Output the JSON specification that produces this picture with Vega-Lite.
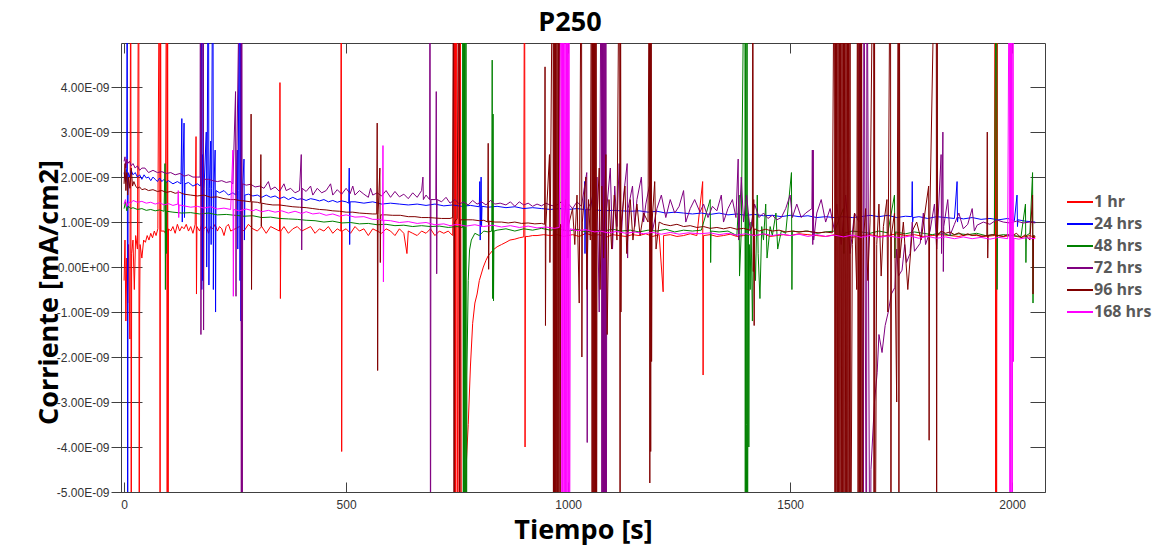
{
"$schema":"https://vega.github.io/schema/vega-lite/v6.json",
"width":924,"height":449,
"autosize":"none",
"padding":{"left":121,"top":43,"right":109,"bottom":55},
"background":"white",
"title":{"text":"P250","font":"Open Sans","fontSize":27,"fontWeight":"bold","color":"#000000","anchor":"middle","offset":6,"dx":-13,"frame":"group"},
"config":{"view":{"stroke":"#404040","strokeWidth":1},"axis":{"grid":false}},
"data":{"values":[
{"s":"1 hr","t":0,"i":-0.3e-9},{"s":"1 hr","t":2,"i":0.6e-9},{"s":"1 hr","t":4,"i":-1.2e-9},{"s":"1 hr","t":6,"i":0.2e-9},{"s":"1 hr","t":8,"i":-0.8e-9},{"s":"1 hr","t":10,"i":0.5e-9},{"s":"1 hr","t":13,"i":-1.6e-9},{"s":"1 hr","t":15,"i":9e-9},{"s":"1 hr","t":16,"i":-9e-9},{"s":"1 hr","t":17,"i":0.3e-9},{"s":"1 hr","t":20,"i":0.6e-9},{"s":"1 hr","t":23,"i":-0.5e-9},{"s":"1 hr","t":26,"i":0.7e-9},{"s":"1 hr","t":30,"i":0.4e-9},{"s":"1 hr","t":33,"i":9e-9},{"s":"1 hr","t":34,"i":-9e-9},{"s":"1 hr","t":35,"i":-1.0e-9},{"s":"1 hr","t":36,"i":0.5e-9},{"s":"1 hr","t":40,"i":0.2e-9},{"s":"1 hr","t":44,"i":0.6e-9},{"s":"1 hr","t":48,"i":0.55e-9},{"s":"1 hr","t":52,"i":0.7e-9},{"s":"1 hr","t":56,"i":0.6e-9},{"s":"1 hr","t":60,"i":0.75e-9},{"s":"1 hr","t":64,"i":0.65e-9},{"s":"1 hr","t":68,"i":0.8e-9},{"s":"1 hr","t":72,"i":0.7e-9},{"s":"1 hr","t":76,"i":0.85e-9},{"s":"1 hr","t":80,"i":9e-9},{"s":"1 hr","t":81,"i":-9e-9},{"s":"1 hr","t":82,"i":9e-9},{"s":"1 hr","t":83,"i":0.8e-9},{"s":"1 hr","t":90,"i":0.8e-9},{"s":"1 hr","t":93,"i":0.75e-9},{"s":"1 hr","t":96,"i":9e-9},{"s":"1 hr","t":97,"i":-9e-9},{"s":"1 hr","t":98,"i":9e-9},{"s":"1 hr","t":99,"i":-9e-9},{"s":"1 hr","t":100,"i":0.85e-9},{"s":"1 hr","t":105,"i":0.8e-9},{"s":"1 hr","t":110,"i":0.9e-9},{"s":"1 hr","t":115,"i":0.75e-9},{"s":"1 hr","t":120,"i":0.95e-9},{"s":"1 hr","t":125,"i":0.8e-9},{"s":"1 hr","t":130,"i":0.9e-9},{"s":"1 hr","t":135,"i":0.85e-9},{"s":"1 hr","t":140,"i":0.95e-9},{"s":"1 hr","t":145,"i":0.8e-9},{"s":"1 hr","t":150,"i":0.9e-9},{"s":"1 hr","t":155,"i":0.75e-9},{"s":"1 hr","t":160,"i":0.95e-9},{"s":"1 hr","t":162,"i":2.9e-9},{"s":"1 hr","t":163,"i":-0.6e-9},{"s":"1 hr","t":164,"i":0.9e-9},{"s":"1 hr","t":170,"i":0.8e-9},{"s":"1 hr","t":175,"i":0.95e-9},{"s":"1 hr","t":180,"i":0.85e-9},{"s":"1 hr","t":185,"i":0.9e-9},{"s":"1 hr","t":190,"i":0.75e-9},{"s":"1 hr","t":195,"i":0.9e-9},{"s":"1 hr","t":200,"i":0.85e-9},{"s":"1 hr","t":205,"i":0.95e-9},{"s":"1 hr","t":210,"i":0.8e-9},{"s":"1 hr","t":215,"i":0.9e-9},{"s":"1 hr","t":220,"i":0.85e-9},{"s":"1 hr","t":225,"i":0.7e-9},{"s":"1 hr","t":230,"i":0.9e-9},{"s":"1 hr","t":235,"i":0.95e-9},{"s":"1 hr","t":240,"i":0.8e-9},{"s":"1 hr","t":250,"i":0.85e-9},{"s":"1 hr","t":260,"i":0.9e-9},{"s":"1 hr","t":270,"i":0.8e-9},{"s":"1 hr","t":280,"i":0.95e-9},{"s":"1 hr","t":290,"i":0.85e-9},{"s":"1 hr","t":300,"i":0.8e-9},{"s":"1 hr","t":310,"i":0.9e-9},{"s":"1 hr","t":320,"i":0.75e-9},{"s":"1 hr","t":330,"i":0.9e-9},{"s":"1 hr","t":340,"i":0.85e-9},{"s":"1 hr","t":350,"i":0.8e-9},{"s":"1 hr","t":351,"i":4.1e-9},{"s":"1 hr","t":352,"i":-0.7e-9},{"s":"1 hr","t":353,"i":0.8e-9},{"s":"1 hr","t":360,"i":0.9e-9},{"s":"1 hr","t":370,"i":0.75e-9},{"s":"1 hr","t":380,"i":0.85e-9},{"s":"1 hr","t":390,"i":0.9e-9},{"s":"1 hr","t":400,"i":0.8e-9},{"s":"1 hr","t":410,"i":0.85e-9},{"s":"1 hr","t":420,"i":0.9e-9},{"s":"1 hr","t":430,"i":0.75e-9},{"s":"1 hr","t":440,"i":0.85e-9},{"s":"1 hr","t":450,"i":0.8e-9},{"s":"1 hr","t":460,"i":0.9e-9},{"s":"1 hr","t":470,"i":0.75e-9},{"s":"1 hr","t":480,"i":0.85e-9},{"s":"1 hr","t":488,"i":0.8e-9},{"s":"1 hr","t":489,"i":9e-9},{"s":"1 hr","t":490,"i":-4.1e-9},{"s":"1 hr","t":491,"i":0.8e-9},{"s":"1 hr","t":500,"i":0.85e-9},{"s":"1 hr","t":510,"i":0.75e-9},{"s":"1 hr","t":520,"i":0.9e-9},{"s":"1 hr","t":530,"i":0.8e-9},{"s":"1 hr","t":540,"i":0.85e-9},{"s":"1 hr","t":550,"i":0.7e-9},{"s":"1 hr","t":560,"i":0.85e-9},{"s":"1 hr","t":570,"i":0.8e-9},{"s":"1 hr","t":580,"i":0.75e-9},{"s":"1 hr","t":590,"i":0.85e-9},{"s":"1 hr","t":600,"i":0.8e-9},{"s":"1 hr","t":610,"i":0.7e-9},{"s":"1 hr","t":620,"i":0.85e-9},{"s":"1 hr","t":630,"i":0.75e-9},{"s":"1 hr","t":637,"i":0.3e-9},{"s":"1 hr","t":640,"i":0.8e-9},{"s":"1 hr","t":650,"i":0.75e-9},{"s":"1 hr","t":660,"i":0.7e-9},{"s":"1 hr","t":670,"i":0.8e-9},{"s":"1 hr","t":680,"i":0.75e-9},{"s":"1 hr","t":690,"i":0.85e-9},{"s":"1 hr","t":700,"i":0.7e-9},{"s":"1 hr","t":710,"i":0.8e-9},{"s":"1 hr","t":720,"i":0.75e-9},{"s":"1 hr","t":730,"i":0.8e-9},{"s":"1 hr","t":740,"i":0.7e-9},{"s":"1 hr","t":744,"i":9e-9},{"s":"1 hr","t":745,"i":-9e-9},{"s":"1 hr","t":746,"i":9e-9},{"s":"1 hr","t":747,"i":-9e-9},{"s":"1 hr","t":748,"i":9e-9},{"s":"1 hr","t":752,"i":-9e-9},{"s":"1 hr","t":753,"i":9e-9},{"s":"1 hr","t":756,"i":-9e-9},{"s":"1 hr","t":757,"i":9e-9},{"s":"1 hr","t":760,"i":-9e-9},{"s":"1 hr","t":765,"i":-6e-9},{"s":"1 hr","t":770,"i":-4.5e-9},{"s":"1 hr","t":775,"i":-3.5e-9},{"s":"1 hr","t":780,"i":-2.2e-9},{"s":"1 hr","t":785,"i":-1.25e-9},{"s":"1 hr","t":790,"i":-0.8e-9},{"s":"1 hr","t":795,"i":-0.6e-9},{"s":"1 hr","t":800,"i":-0.3e-9},{"s":"1 hr","t":809,"i":0.0},{"s":"1 hr","t":815,"i":0.15e-9},{"s":"1 hr","t":820,"i":0.25e-9},{"s":"1 hr","t":831,"i":0.38e-9},{"s":"1 hr","t":840,"i":0.45e-9},{"s":"1 hr","t":850,"i":0.5e-9},{"s":"1 hr","t":860,"i":0.55e-9},{"s":"1 hr","t":869,"i":0.6e-9},{"s":"1 hr","t":880,"i":0.62e-9},{"s":"1 hr","t":890,"i":0.65e-9},{"s":"1 hr","t":900,"i":0.67e-9},{"s":"1 hr","t":902,"i":9e-9},{"s":"1 hr","t":903,"i":-4.0e-9},{"s":"1 hr","t":904,"i":0.68e-9},{"s":"1 hr","t":910,"i":0.68e-9},{"s":"1 hr","t":920,"i":0.7e-9},{"s":"1 hr","t":930,"i":0.7e-9},{"s":"1 hr","t":945,"i":0.72e-9},{"s":"1 hr","t":960,"i":0.7e-9},{"s":"1 hr","t":975,"i":0.72e-9},{"s":"1 hr","t":990,"i":0.68e-9},{"s":"1 hr","t":1000,"i":0.7e-9},{"s":"1 hr","t":1010,"i":0.72e-9},{"s":"1 hr","t":1025,"i":0.68e-9},{"s":"1 hr","t":1040,"i":0.75e-9},{"s":"1 hr","t":1055,"i":0.7e-9},{"s":"1 hr","t":1070,"i":0.72e-9},{"s":"1 hr","t":1085,"i":0.66e-9},{"s":"1 hr","t":1100,"i":0.72e-9},{"s":"1 hr","t":1115,"i":0.7e-9},{"s":"1 hr","t":1130,"i":0.68e-9},{"s":"1 hr","t":1145,"i":0.72e-9},{"s":"1 hr","t":1160,"i":0.7e-9},{"s":"1 hr","t":1175,"i":0.74e-9},{"s":"1 hr","t":1190,"i":0.68e-9},{"s":"1 hr","t":1205,"i":0.72e-9},{"s":"1 hr","t":1214,"i":-0.55e-9},{"s":"1 hr","t":1215,"i":0.7e-9},{"s":"1 hr","t":1230,"i":0.72e-9},{"s":"1 hr","t":1245,"i":0.68e-9},{"s":"1 hr","t":1260,"i":0.7e-9},{"s":"1 hr","t":1275,"i":0.74e-9},{"s":"1 hr","t":1290,"i":0.7e-9},{"s":"1 hr","t":1303,"i":1.9e-9},{"s":"1 hr","t":1304,"i":-2.4e-9},{"s":"1 hr","t":1305,"i":0.7e-9},{"s":"1 hr","t":1320,"i":0.72e-9},{"s":"1 hr","t":1335,"i":0.68e-9},{"s":"1 hr","t":1350,"i":0.7e-9},{"s":"1 hr","t":1365,"i":0.73e-9},{"s":"1 hr","t":1380,"i":0.68e-9},{"s":"1 hr","t":1395,"i":0.7e-9},{"s":"1 hr","t":1410,"i":0.72e-9},{"s":"1 hr","t":1425,"i":0.7e-9},{"s":"1 hr","t":1440,"i":0.74e-9},{"s":"1 hr","t":1455,"i":0.68e-9},{"s":"1 hr","t":1470,"i":0.7e-9},{"s":"1 hr","t":1485,"i":0.72e-9},{"s":"1 hr","t":1500,"i":0.7e-9},{"s":"1 hr","t":1520,"i":0.74e-9},{"s":"1 hr","t":1540,"i":0.72e-9},{"s":"1 hr","t":1560,"i":0.7e-9},{"s":"1 hr","t":1580,"i":0.68e-9},{"s":"1 hr","t":1600,"i":0.72e-9},{"s":"1 hr","t":1620,"i":0.7e-9},{"s":"1 hr","t":1640,"i":0.66e-9},{"s":"1 hr","t":1660,"i":0.7e-9},{"s":"1 hr","t":1680,"i":0.72e-9},{"s":"1 hr","t":1700,"i":0.68e-9},{"s":"1 hr","t":1720,"i":0.7e-9},{"s":"1 hr","t":1740,"i":0.74e-9},{"s":"1 hr","t":1760,"i":0.7e-9},{"s":"1 hr","t":1780,"i":0.72e-9},{"s":"1 hr","t":1800,"i":0.68e-9},{"s":"1 hr","t":1820,"i":0.7e-9},{"s":"1 hr","t":1840,"i":0.72e-9},{"s":"1 hr","t":1860,"i":0.7e-9},{"s":"1 hr","t":1880,"i":0.68e-9},{"s":"1 hr","t":1900,"i":0.72e-9},{"s":"1 hr","t":1920,"i":0.7e-9},{"s":"1 hr","t":1940,"i":0.68e-9},{"s":"1 hr","t":1960,"i":0.7e-9},{"s":"1 hr","t":1962,"i":9e-9},{"s":"1 hr","t":1963,"i":-9e-9},{"s":"1 hr","t":1964,"i":9e-9},{"s":"1 hr","t":1965,"i":-9e-9},{"s":"1 hr","t":1966,"i":9e-9},{"s":"1 hr","t":1967,"i":0.7e-9},{"s":"1 hr","t":1980,"i":0.68e-9},{"s":"1 hr","t":2000,"i":0.7e-9},{"s":"1 hr","t":2020,"i":0.66e-9},{"s":"1 hr","t":2040,"i":0.7e-9},{"s":"1 hr","t":2052,"i":0.65e-9},
{"s":"24 hrs","t":0,"i":2.1e-9},{"s":"24 hrs","t":3,"i":1.9e-9},{"s":"24 hrs","t":6,"i":2.2e-9},{"s":"24 hrs","t":7,"i":9e-9},{"s":"24 hrs","t":8,"i":-9e-9},{"s":"24 hrs","t":9,"i":2.1e-9},{"s":"24 hrs","t":12,"i":2.0e-9},{"s":"24 hrs","t":16,"i":2.15e-9},{"s":"24 hrs","t":20,"i":2.05e-9},{"s":"24 hrs","t":25,"i":2.1e-9},{"s":"24 hrs","t":30,"i":2.0e-9},{"s":"24 hrs","t":35,"i":2.05e-9},{"s":"24 hrs","t":40,"i":1.95e-9},{"s":"24 hrs","t":45,"i":2.05e-9},{"s":"24 hrs","t":50,"i":1.98e-9},{"s":"24 hrs","t":55,"i":2.0e-9},{"s":"24 hrs","t":60,"i":1.92e-9},{"s":"24 hrs","t":65,"i":2.0e-9},{"s":"24 hrs","t":70,"i":1.95e-9},{"s":"24 hrs","t":75,"i":1.9e-9},{"s":"24 hrs","t":80,"i":1.98e-9},{"s":"24 hrs","t":85,"i":1.9e-9},{"s":"24 hrs","t":90,"i":1.95e-9},{"s":"24 hrs","t":95,"i":1.88e-9},{"s":"24 hrs","t":100,"i":1.92e-9},{"s":"24 hrs","t":110,"i":1.85e-9},{"s":"24 hrs","t":120,"i":1.9e-9},{"s":"24 hrs","t":128,"i":1.85e-9},{"s":"24 hrs","t":130,"i":3.3e-9},{"s":"24 hrs","t":131,"i":1.0e-9},{"s":"24 hrs","t":132,"i":1.9e-9},{"s":"24 hrs","t":135,"i":3.2e-9},{"s":"24 hrs","t":136,"i":1.1e-9},{"s":"24 hrs","t":137,"i":1.85e-9},{"s":"24 hrs","t":145,"i":1.88e-9},{"s":"24 hrs","t":155,"i":1.8e-9},{"s":"24 hrs","t":165,"i":1.85e-9},{"s":"24 hrs","t":172,"i":1.8e-9},{"s":"24 hrs","t":174,"i":9e-9},{"s":"24 hrs","t":175,"i":-0.5e-9},{"s":"24 hrs","t":176,"i":2.5e-9},{"s":"24 hrs","t":177,"i":-0.3e-9},{"s":"24 hrs","t":178,"i":9e-9},{"s":"24 hrs","t":179,"i":0.8e-9},{"s":"24 hrs","t":180,"i":1.75e-9},{"s":"24 hrs","t":185,"i":3.0e-9},{"s":"24 hrs","t":186,"i":0.0},{"s":"24 hrs","t":187,"i":1.8e-9},{"s":"24 hrs","t":190,"i":9e-9},{"s":"24 hrs","t":191,"i":-0.4e-9},{"s":"24 hrs","t":192,"i":1.75e-9},{"s":"24 hrs","t":195,"i":2.8e-9},{"s":"24 hrs","t":196,"i":0.5e-9},{"s":"24 hrs","t":197,"i":1.75e-9},{"s":"24 hrs","t":200,"i":9e-9},{"s":"24 hrs","t":201,"i":-0.5e-9},{"s":"24 hrs","t":202,"i":1.7e-9},{"s":"24 hrs","t":205,"i":2.6e-9},{"s":"24 hrs","t":206,"i":-1.0e-9},{"s":"24 hrs","t":207,"i":1.7e-9},{"s":"24 hrs","t":215,"i":1.65e-9},{"s":"24 hrs","t":225,"i":1.7e-9},{"s":"24 hrs","t":235,"i":1.6e-9},{"s":"24 hrs","t":245,"i":1.65e-9},{"s":"24 hrs","t":252,"i":1.6e-9},{"s":"24 hrs","t":255,"i":2.6e-9},{"s":"24 hrs","t":256,"i":0.4e-9},{"s":"24 hrs","t":257,"i":1.7e-9},{"s":"24 hrs","t":260,"i":9e-9},{"s":"24 hrs","t":261,"i":-0.3e-9},{"s":"24 hrs","t":262,"i":9e-9},{"s":"24 hrs","t":263,"i":-1.2e-9},{"s":"24 hrs","t":264,"i":9e-9},{"s":"24 hrs","t":265,"i":-0.3e-9},{"s":"24 hrs","t":266,"i":1.6e-9},{"s":"24 hrs","t":270,"i":2.4e-9},{"s":"24 hrs","t":271,"i":0.6e-9},{"s":"24 hrs","t":272,"i":1.6e-9},{"s":"24 hrs","t":280,"i":1.62e-9},{"s":"24 hrs","t":290,"i":1.58e-9},{"s":"24 hrs","t":300,"i":1.6e-9},{"s":"24 hrs","t":310,"i":1.55e-9},{"s":"24 hrs","t":320,"i":1.6e-9},{"s":"24 hrs","t":330,"i":1.55e-9},{"s":"24 hrs","t":340,"i":1.58e-9},{"s":"24 hrs","t":350,"i":1.52e-9},{"s":"24 hrs","t":360,"i":1.56e-9},{"s":"24 hrs","t":370,"i":1.5e-9},{"s":"24 hrs","t":380,"i":1.55e-9},{"s":"24 hrs","t":390,"i":1.5e-9},{"s":"24 hrs","t":400,"i":1.52e-9},{"s":"24 hrs","t":410,"i":1.48e-9},{"s":"24 hrs","t":420,"i":1.52e-9},{"s":"24 hrs","t":430,"i":1.5e-9},{"s":"24 hrs","t":440,"i":1.47e-9},{"s":"24 hrs","t":450,"i":1.5e-9},{"s":"24 hrs","t":460,"i":1.45e-9},{"s":"24 hrs","t":470,"i":1.48e-9},{"s":"24 hrs","t":480,"i":1.44e-9},{"s":"24 hrs","t":490,"i":1.47e-9},{"s":"24 hrs","t":500,"i":1.45e-9},{"s":"24 hrs","t":506,"i":1.42e-9},{"s":"24 hrs","t":507,"i":2.2e-9},{"s":"24 hrs","t":508,"i":0.5e-9},{"s":"24 hrs","t":509,"i":1.45e-9},{"s":"24 hrs","t":520,"i":1.45e-9},{"s":"24 hrs","t":540,"i":1.42e-9},{"s":"24 hrs","t":560,"i":1.45e-9},{"s":"24 hrs","t":580,"i":1.4e-9},{"s":"24 hrs","t":600,"i":1.42e-9},{"s":"24 hrs","t":620,"i":1.4e-9},{"s":"24 hrs","t":640,"i":1.38e-9},{"s":"24 hrs","t":660,"i":1.4e-9},{"s":"24 hrs","t":680,"i":1.37e-9},{"s":"24 hrs","t":700,"i":1.4e-9},{"s":"24 hrs","t":720,"i":1.36e-9},{"s":"24 hrs","t":740,"i":1.38e-9},{"s":"24 hrs","t":760,"i":1.35e-9},{"s":"24 hrs","t":780,"i":1.37e-9},{"s":"24 hrs","t":800,"i":1.34e-9},{"s":"24 hrs","t":801,"i":1.9e-9},{"s":"24 hrs","t":802,"i":0.6e-9},{"s":"24 hrs","t":803,"i":1.35e-9},{"s":"24 hrs","t":804,"i":2.0e-9},{"s":"24 hrs","t":805,"i":0.9e-9},{"s":"24 hrs","t":806,"i":1.35e-9},{"s":"24 hrs","t":820,"i":1.33e-9},{"s":"24 hrs","t":840,"i":1.35e-9},{"s":"24 hrs","t":860,"i":1.32e-9},{"s":"24 hrs","t":880,"i":1.34e-9},{"s":"24 hrs","t":900,"i":1.3e-9},{"s":"24 hrs","t":920,"i":1.32e-9},{"s":"24 hrs","t":940,"i":1.3e-9},{"s":"24 hrs","t":960,"i":1.28e-9},{"s":"24 hrs","t":980,"i":1.3e-9},{"s":"24 hrs","t":1000,"i":1.28e-9},{"s":"24 hrs","t":1020,"i":1.3e-9},{"s":"24 hrs","t":1036,"i":1.28e-9},{"s":"24 hrs","t":1037,"i":1.9e-9},{"s":"24 hrs","t":1038,"i":0.3e-9},{"s":"24 hrs","t":1039,"i":1.28e-9},{"s":"24 hrs","t":1050,"i":1.27e-9},{"s":"24 hrs","t":1060,"i":1.9e-9},{"s":"24 hrs","t":1061,"i":0.3e-9},{"s":"24 hrs","t":1062,"i":1.27e-9},{"s":"24 hrs","t":1080,"i":1.25e-9},{"s":"24 hrs","t":1100,"i":1.26e-9},{"s":"24 hrs","t":1120,"i":1.25e-9},{"s":"24 hrs","t":1140,"i":1.24e-9},{"s":"24 hrs","t":1160,"i":1.25e-9},{"s":"24 hrs","t":1180,"i":1.22e-9},{"s":"24 hrs","t":1200,"i":1.24e-9},{"s":"24 hrs","t":1220,"i":1.2e-9},{"s":"24 hrs","t":1240,"i":1.22e-9},{"s":"24 hrs","t":1260,"i":1.2e-9},{"s":"24 hrs","t":1280,"i":1.18e-9},{"s":"24 hrs","t":1300,"i":1.2e-9},{"s":"24 hrs","t":1320,"i":1.17e-9},{"s":"24 hrs","t":1340,"i":1.2e-9},{"s":"24 hrs","t":1360,"i":1.16e-9},{"s":"24 hrs","t":1380,"i":1.18e-9},{"s":"24 hrs","t":1400,"i":1.15e-9},{"s":"24 hrs","t":1420,"i":1.17e-9},{"s":"24 hrs","t":1440,"i":1.14e-9},{"s":"24 hrs","t":1460,"i":1.15e-9},{"s":"24 hrs","t":1480,"i":1.12e-9},{"s":"24 hrs","t":1500,"i":1.15e-9},{"s":"24 hrs","t":1520,"i":1.12e-9},{"s":"24 hrs","t":1540,"i":1.14e-9},{"s":"24 hrs","t":1560,"i":1.1e-9},{"s":"24 hrs","t":1580,"i":1.12e-9},{"s":"24 hrs","t":1600,"i":1.1e-9},{"s":"24 hrs","t":1620,"i":1.12e-9},{"s":"24 hrs","t":1640,"i":1.1e-9},{"s":"24 hrs","t":1660,"i":1.12e-9},{"s":"24 hrs","t":1680,"i":1.15e-9},{"s":"24 hrs","t":1700,"i":1.12e-9},{"s":"24 hrs","t":1720,"i":1.15e-9},{"s":"24 hrs","t":1740,"i":1.1e-9},{"s":"24 hrs","t":1760,"i":1.13e-9},{"s":"24 hrs","t":1774,"i":1.12e-9},{"s":"24 hrs","t":1775,"i":1.9e-9},{"s":"24 hrs","t":1776,"i":1.0e-9},{"s":"24 hrs","t":1777,"i":1.1e-9},{"s":"24 hrs","t":1790,"i":1.12e-9},{"s":"24 hrs","t":1810,"i":1.08e-9},{"s":"24 hrs","t":1830,"i":1.12e-9},{"s":"24 hrs","t":1850,"i":1.1e-9},{"s":"24 hrs","t":1870,"i":1.08e-9},{"s":"24 hrs","t":1876,"i":1.9e-9},{"s":"24 hrs","t":1877,"i":1.0e-9},{"s":"24 hrs","t":1878,"i":1.1e-9},{"s":"24 hrs","t":1890,"i":1.07e-9},{"s":"24 hrs","t":1910,"i":1.1e-9},{"s":"24 hrs","t":1930,"i":1.06e-9},{"s":"24 hrs","t":1950,"i":1.08e-9},{"s":"24 hrs","t":1970,"i":1.05e-9},{"s":"24 hrs","t":1990,"i":1.08e-9},{"s":"24 hrs","t":2005,"i":1.03e-9},{"s":"24 hrs","t":2011,"i":1.6e-9},{"s":"24 hrs","t":2012,"i":0.9e-9},{"s":"24 hrs","t":2013,"i":1.05e-9},{"s":"24 hrs","t":2030,"i":1.02e-9},{"s":"24 hrs","t":2052,"i":1.0e-9},
{"s":"48 hrs","t":0,"i":1.3e-9},{"s":"48 hrs","t":3,"i":1.45e-9},{"s":"48 hrs","t":6,"i":1.25e-9},{"s":"48 hrs","t":10,"i":1.35e-9},{"s":"48 hrs","t":15,"i":1.3e-9},{"s":"48 hrs","t":20,"i":1.32e-9},{"s":"48 hrs","t":30,"i":1.28e-9},{"s":"48 hrs","t":40,"i":1.3e-9},{"s":"48 hrs","t":50,"i":1.26e-9},{"s":"48 hrs","t":60,"i":1.28e-9},{"s":"48 hrs","t":70,"i":1.25e-9},{"s":"48 hrs","t":80,"i":1.27e-9},{"s":"48 hrs","t":90,"i":1.24e-9},{"s":"48 hrs","t":92,"i":2.3e-9},{"s":"48 hrs","t":93,"i":-0.5e-9},{"s":"48 hrs","t":94,"i":1.9e-9},{"s":"48 hrs","t":95,"i":0.3e-9},{"s":"48 hrs","t":96,"i":1.24e-9},{"s":"48 hrs","t":110,"i":1.22e-9},{"s":"48 hrs","t":130,"i":1.2e-9},{"s":"48 hrs","t":150,"i":1.21e-9},{"s":"48 hrs","t":170,"i":1.18e-9},{"s":"48 hrs","t":190,"i":1.2e-9},{"s":"48 hrs","t":210,"i":1.16e-9},{"s":"48 hrs","t":230,"i":1.17e-9},{"s":"48 hrs","t":250,"i":1.15e-9},{"s":"48 hrs","t":270,"i":1.13e-9},{"s":"48 hrs","t":290,"i":1.14e-9},{"s":"48 hrs","t":310,"i":1.1e-9},{"s":"48 hrs","t":330,"i":1.11e-9},{"s":"48 hrs","t":350,"i":1.08e-9},{"s":"48 hrs","t":370,"i":1.07e-9},{"s":"48 hrs","t":390,"i":1.06e-9},{"s":"48 hrs","t":410,"i":1.04e-9},{"s":"48 hrs","t":430,"i":1.03e-9},{"s":"48 hrs","t":450,"i":1.0e-9},{"s":"48 hrs","t":470,"i":1.02e-9},{"s":"48 hrs","t":490,"i":0.98e-9},{"s":"48 hrs","t":510,"i":0.99e-9},{"s":"48 hrs","t":530,"i":0.96e-9},{"s":"48 hrs","t":550,"i":0.97e-9},{"s":"48 hrs","t":570,"i":0.94e-9},{"s":"48 hrs","t":590,"i":0.95e-9},{"s":"48 hrs","t":610,"i":0.92e-9},{"s":"48 hrs","t":630,"i":0.93e-9},{"s":"48 hrs","t":650,"i":0.9e-9},{"s":"48 hrs","t":670,"i":0.92e-9},{"s":"48 hrs","t":690,"i":0.9e-9},{"s":"48 hrs","t":710,"i":0.91e-9},{"s":"48 hrs","t":730,"i":0.88e-9},{"s":"48 hrs","t":750,"i":0.9e-9},{"s":"48 hrs","t":762,"i":0.88e-9},{"s":"48 hrs","t":763,"i":9e-9},{"s":"48 hrs","t":764,"i":-9e-9},{"s":"48 hrs","t":765,"i":9e-9},{"s":"48 hrs","t":766,"i":-9e-9},{"s":"48 hrs","t":767,"i":9e-9},{"s":"48 hrs","t":768,"i":-9e-9},{"s":"48 hrs","t":770,"i":9e-9},{"s":"48 hrs","t":771,"i":-9e-9},{"s":"48 hrs","t":772,"i":-2.4e-9},{"s":"48 hrs","t":775,"i":-0.3e-9},{"s":"48 hrs","t":778,"i":0.38e-9},{"s":"48 hrs","t":782,"i":0.6e-9},{"s":"48 hrs","t":790,"i":0.75e-9},{"s":"48 hrs","t":800,"i":0.7e-9},{"s":"48 hrs","t":810,"i":0.8e-9},{"s":"48 hrs","t":820,"i":0.78e-9},{"s":"48 hrs","t":828,"i":0.8e-9},{"s":"48 hrs","t":829,"i":4.6e-9},{"s":"48 hrs","t":830,"i":-0.7e-9},{"s":"48 hrs","t":831,"i":3.4e-9},{"s":"48 hrs","t":832,"i":-0.75e-9},{"s":"48 hrs","t":833,"i":0.8e-9},{"s":"48 hrs","t":840,"i":0.82e-9},{"s":"48 hrs","t":860,"i":0.85e-9},{"s":"48 hrs","t":880,"i":0.8e-9},{"s":"48 hrs","t":900,"i":0.85e-9},{"s":"48 hrs","t":920,"i":0.82e-9},{"s":"48 hrs","t":940,"i":0.86e-9},{"s":"48 hrs","t":960,"i":0.82e-9},{"s":"48 hrs","t":980,"i":0.85e-9},{"s":"48 hrs","t":1000,"i":0.8e-9},{"s":"48 hrs","t":1020,"i":0.84e-9},{"s":"48 hrs","t":1040,"i":0.78e-9},{"s":"48 hrs","t":1060,"i":0.82e-9},{"s":"48 hrs","t":1080,"i":0.8e-9},{"s":"48 hrs","t":1100,"i":0.84e-9},{"s":"48 hrs","t":1120,"i":0.8e-9},{"s":"48 hrs","t":1140,"i":0.82e-9},{"s":"48 hrs","t":1160,"i":0.78e-9},{"s":"48 hrs","t":1180,"i":0.82e-9},{"s":"48 hrs","t":1200,"i":0.8e-9},{"s":"48 hrs","t":1220,"i":0.84e-9},{"s":"48 hrs","t":1240,"i":0.78e-9},{"s":"48 hrs","t":1260,"i":0.82e-9},{"s":"48 hrs","t":1280,"i":0.8e-9},{"s":"48 hrs","t":1300,"i":0.82e-9},{"s":"48 hrs","t":1320,"i":1.5e-9},{"s":"48 hrs","t":1321,"i":0.1e-9},{"s":"48 hrs","t":1322,"i":0.8e-9},{"s":"48 hrs","t":1340,"i":0.78e-9},{"s":"48 hrs","t":1360,"i":0.8e-9},{"s":"48 hrs","t":1380,"i":0.7e-9},{"s":"48 hrs","t":1385,"i":1.6e-9},{"s":"48 hrs","t":1386,"i":-0.2e-9},{"s":"48 hrs","t":1390,"i":0.8e-9},{"s":"48 hrs","t":1398,"i":9e-9},{"s":"48 hrs","t":1399,"i":-9e-9},{"s":"48 hrs","t":1400,"i":9e-9},{"s":"48 hrs","t":1401,"i":-9e-9},{"s":"48 hrs","t":1402,"i":-3.5e-9},{"s":"48 hrs","t":1403,"i":9e-9},{"s":"48 hrs","t":1404,"i":-9e-9},{"s":"48 hrs","t":1405,"i":-2.0e-9},{"s":"48 hrs","t":1406,"i":1.2e-9},{"s":"48 hrs","t":1407,"i":-4.0e-9},{"s":"48 hrs","t":1408,"i":0.5e-9},{"s":"48 hrs","t":1410,"i":-0.5e-9},{"s":"48 hrs","t":1412,"i":1.0e-9},{"s":"48 hrs","t":1415,"i":-1.2e-9},{"s":"48 hrs","t":1418,"i":0.8e-9},{"s":"48 hrs","t":1422,"i":-0.3e-9},{"s":"48 hrs","t":1426,"i":1.6e-9},{"s":"48 hrs","t":1428,"i":0.3e-9},{"s":"48 hrs","t":1432,"i":-0.7e-9},{"s":"48 hrs","t":1436,"i":0.9e-9},{"s":"48 hrs","t":1440,"i":0.6e-9},{"s":"48 hrs","t":1445,"i":1.4e-9},{"s":"48 hrs","t":1448,"i":0.2e-9},{"s":"48 hrs","t":1455,"i":0.9e-9},{"s":"48 hrs","t":1460,"i":0.7e-9},{"s":"48 hrs","t":1468,"i":1.2e-9},{"s":"48 hrs","t":1472,"i":0.4e-9},{"s":"48 hrs","t":1480,"i":0.8e-9},{"s":"48 hrs","t":1490,"i":0.75e-9},{"s":"48 hrs","t":1503,"i":2.1e-9},{"s":"48 hrs","t":1504,"i":-0.5e-9},{"s":"48 hrs","t":1505,"i":0.8e-9},{"s":"48 hrs","t":1520,"i":0.78e-9},{"s":"48 hrs","t":1540,"i":0.8e-9},{"s":"48 hrs","t":1560,"i":0.75e-9},{"s":"48 hrs","t":1580,"i":0.78e-9},{"s":"48 hrs","t":1600,"i":0.8e-9},{"s":"48 hrs","t":1620,"i":1.3e-9},{"s":"48 hrs","t":1621,"i":0.3e-9},{"s":"48 hrs","t":1622,"i":0.75e-9},{"s":"48 hrs","t":1640,"i":0.8e-9},{"s":"48 hrs","t":1660,"i":0.78e-9},{"s":"48 hrs","t":1680,"i":0.75e-9},{"s":"48 hrs","t":1700,"i":0.8e-9},{"s":"48 hrs","t":1720,"i":0.76e-9},{"s":"48 hrs","t":1735,"i":1.6e-9},{"s":"48 hrs","t":1736,"i":0.2e-9},{"s":"48 hrs","t":1737,"i":0.78e-9},{"s":"48 hrs","t":1760,"i":0.74e-9},{"s":"48 hrs","t":1780,"i":0.78e-9},{"s":"48 hrs","t":1800,"i":0.75e-9},{"s":"48 hrs","t":1820,"i":0.72e-9},{"s":"48 hrs","t":1840,"i":0.76e-9},{"s":"48 hrs","t":1860,"i":0.7e-9},{"s":"48 hrs","t":1880,"i":0.74e-9},{"s":"48 hrs","t":1900,"i":0.72e-9},{"s":"48 hrs","t":1920,"i":0.75e-9},{"s":"48 hrs","t":1940,"i":0.7e-9},{"s":"48 hrs","t":1960,"i":0.72e-9},{"s":"48 hrs","t":1965,"i":9e-9},{"s":"48 hrs","t":1966,"i":-0.5e-9},{"s":"48 hrs","t":1967,"i":0.7e-9},{"s":"48 hrs","t":1980,"i":0.72e-9},{"s":"48 hrs","t":2000,"i":0.7e-9},{"s":"48 hrs","t":2020,"i":0.68e-9},{"s":"48 hrs","t":2030,"i":1.4e-9},{"s":"48 hrs","t":2031,"i":0.1e-9},{"s":"48 hrs","t":2032,"i":0.7e-9},{"s":"48 hrs","t":2040,"i":0.75e-9},{"s":"48 hrs","t":2046,"i":2.1e-9},{"s":"48 hrs","t":2047,"i":-0.8e-9},{"s":"48 hrs","t":2048,"i":0.7e-9},{"s":"48 hrs","t":2052,"i":0.68e-9},
{"s":"72 hrs","t":0,"i":2.35e-9},{"s":"72 hrs","t":2,"i":2.45e-9},{"s":"72 hrs","t":4,"i":2.2e-9},{"s":"72 hrs","t":6,"i":2.4e-9},{"s":"72 hrs","t":8,"i":2.3e-9},{"s":"72 hrs","t":12,"i":2.35e-9},{"s":"72 hrs","t":16,"i":2.25e-9},{"s":"72 hrs","t":20,"i":2.3e-9},{"s":"72 hrs","t":25,"i":2.2e-9},{"s":"72 hrs","t":30,"i":2.25e-9},{"s":"72 hrs","t":35,"i":2.15e-9},{"s":"72 hrs","t":40,"i":2.2e-9},{"s":"72 hrs","t":47,"i":2.2e-9},{"s":"72 hrs","t":55,"i":2.1e-9},{"s":"72 hrs","t":65,"i":2.15e-9},{"s":"72 hrs","t":75,"i":2.1e-9},{"s":"72 hrs","t":85,"i":2.12e-9},{"s":"72 hrs","t":95,"i":2.08e-9},{"s":"72 hrs","t":105,"i":2.1e-9},{"s":"72 hrs","t":115,"i":2.05e-9},{"s":"72 hrs","t":126,"i":2.08e-9},{"s":"72 hrs","t":135,"i":2.02e-9},{"s":"72 hrs","t":145,"i":2.05e-9},{"s":"72 hrs","t":155,"i":2.0e-9},{"s":"72 hrs","t":165,"i":2.0e-9},{"s":"72 hrs","t":171,"i":2.0e-9},{"s":"72 hrs","t":172,"i":9e-9},{"s":"72 hrs","t":173,"i":-1.5e-9},{"s":"72 hrs","t":174,"i":1.98e-9},{"s":"72 hrs","t":178,"i":9e-9},{"s":"72 hrs","t":179,"i":-1.4e-9},{"s":"72 hrs","t":180,"i":1.95e-9},{"s":"72 hrs","t":190,"i":1.95e-9},{"s":"72 hrs","t":200,"i":1.92e-9},{"s":"72 hrs","t":210,"i":1.9e-9},{"s":"72 hrs","t":220,"i":1.92e-9},{"s":"72 hrs","t":230,"i":1.88e-9},{"s":"72 hrs","t":239,"i":1.9e-9},{"s":"72 hrs","t":245,"i":1.85e-9},{"s":"72 hrs","t":251,"i":3.9e-9},{"s":"72 hrs","t":252,"i":-0.65e-9},{"s":"72 hrs","t":253,"i":1.85e-9},{"s":"72 hrs","t":263,"i":9e-9},{"s":"72 hrs","t":264,"i":-9e-9},{"s":"72 hrs","t":265,"i":9e-9},{"s":"72 hrs","t":266,"i":-9e-9},{"s":"72 hrs","t":267,"i":1.85e-9},{"s":"72 hrs","t":275,"i":1.82e-9},{"s":"72 hrs","t":285,"i":1.84e-9},{"s":"72 hrs","t":295,"i":1.78e-9},{"s":"72 hrs","t":306,"i":1.8e-9},{"s":"72 hrs","t":315,"i":1.75e-9},{"s":"72 hrs","t":325,"i":1.9e-9},{"s":"72 hrs","t":330,"i":1.72e-9},{"s":"72 hrs","t":340,"i":1.78e-9},{"s":"72 hrs","t":350,"i":1.68e-9},{"s":"72 hrs","t":360,"i":1.85e-9},{"s":"72 hrs","t":365,"i":1.7e-9},{"s":"72 hrs","t":375,"i":1.75e-9},{"s":"72 hrs","t":385,"i":1.65e-9},{"s":"72 hrs","t":395,"i":1.7e-9},{"s":"72 hrs","t":399,"i":2.5e-9},{"s":"72 hrs","t":400,"i":0.38e-9},{"s":"72 hrs","t":401,"i":1.75e-9},{"s":"72 hrs","t":410,"i":1.68e-9},{"s":"72 hrs","t":420,"i":1.8e-9},{"s":"72 hrs","t":425,"i":1.6e-9},{"s":"72 hrs","t":435,"i":1.75e-9},{"s":"72 hrs","t":445,"i":1.65e-9},{"s":"72 hrs","t":455,"i":1.7e-9},{"s":"72 hrs","t":465,"i":1.85e-9},{"s":"72 hrs","t":470,"i":1.6e-9},{"s":"72 hrs","t":480,"i":1.72e-9},{"s":"72 hrs","t":490,"i":1.62e-9},{"s":"72 hrs","t":500,"i":1.75e-9},{"s":"72 hrs","t":509,"i":1.63e-9},{"s":"72 hrs","t":515,"i":1.8e-9},{"s":"72 hrs","t":520,"i":1.6e-9},{"s":"72 hrs","t":530,"i":1.7e-9},{"s":"72 hrs","t":540,"i":1.62e-9},{"s":"72 hrs","t":550,"i":1.55e-9},{"s":"72 hrs","t":555,"i":1.75e-9},{"s":"72 hrs","t":560,"i":1.6e-9},{"s":"72 hrs","t":570,"i":1.65e-9},{"s":"72 hrs","t":580,"i":1.58e-9},{"s":"72 hrs","t":590,"i":1.7e-9},{"s":"72 hrs","t":600,"i":1.55e-9},{"s":"72 hrs","t":610,"i":1.68e-9},{"s":"72 hrs","t":620,"i":1.56e-9},{"s":"72 hrs","t":630,"i":1.62e-9},{"s":"72 hrs","t":640,"i":1.52e-9},{"s":"72 hrs","t":650,"i":1.65e-9},{"s":"72 hrs","t":660,"i":1.55e-9},{"s":"72 hrs","t":670,"i":1.7e-9},{"s":"72 hrs","t":673,"i":2.0e-9},{"s":"72 hrs","t":674,"i":1.5e-9},{"s":"72 hrs","t":680,"i":1.6e-9},{"s":"72 hrs","t":688,"i":1.5e-9},{"s":"72 hrs","t":689,"i":9e-9},{"s":"72 hrs","t":690,"i":-9e-9},{"s":"72 hrs","t":691,"i":1.5e-9},{"s":"72 hrs","t":702,"i":1.5e-9},{"s":"72 hrs","t":703,"i":3.9e-9},{"s":"72 hrs","t":704,"i":-0.15e-9},{"s":"72 hrs","t":705,"i":1.5e-9},{"s":"72 hrs","t":715,"i":1.45e-9},{"s":"72 hrs","t":725,"i":1.55e-9},{"s":"72 hrs","t":734,"i":1.42e-9},{"s":"72 hrs","t":745,"i":1.5e-9},{"s":"72 hrs","t":755,"i":1.4e-9},{"s":"72 hrs","t":765,"i":1.45e-9},{"s":"72 hrs","t":775,"i":1.38e-9},{"s":"72 hrs","t":785,"i":1.48e-9},{"s":"72 hrs","t":795,"i":1.4e-9},{"s":"72 hrs","t":805,"i":1.45e-9},{"s":"72 hrs","t":815,"i":1.38e-9},{"s":"72 hrs","t":825,"i":1.48e-9},{"s":"72 hrs","t":835,"i":1.4e-9},{"s":"72 hrs","t":847,"i":1.42e-9},{"s":"72 hrs","t":860,"i":1.38e-9},{"s":"72 hrs","t":870,"i":1.45e-9},{"s":"72 hrs","t":880,"i":1.35e-9},{"s":"72 hrs","t":890,"i":1.45e-9},{"s":"72 hrs","t":900,"i":1.38e-9},{"s":"72 hrs","t":910,"i":1.42e-9},{"s":"72 hrs","t":920,"i":1.35e-9},{"s":"72 hrs","t":930,"i":1.4e-9},{"s":"72 hrs","t":940,"i":1.36e-9},{"s":"72 hrs","t":950,"i":1.42e-9},{"s":"72 hrs","t":959,"i":1.38e-9},{"s":"72 hrs","t":970,"i":1.35e-9},{"s":"72 hrs","t":985,"i":1.45e-9},{"s":"72 hrs","t":995,"i":1.3e-9},{"s":"72 hrs","t":999,"i":9e-9},{"s":"72 hrs","t":1000,"i":0.2e-9},{"s":"72 hrs","t":1001,"i":1.4e-9},{"s":"72 hrs","t":1010,"i":1.3e-9},{"s":"72 hrs","t":1020,"i":1.45e-9},{"s":"72 hrs","t":1030,"i":1.35e-9},{"s":"72 hrs","t":1042,"i":2.1e-9},{"s":"72 hrs","t":1043,"i":-3.9e-9},{"s":"72 hrs","t":1044,"i":1.3e-9},{"s":"72 hrs","t":1055,"i":1.5e-9},{"s":"72 hrs","t":1060,"i":0.6e-9},{"s":"72 hrs","t":1065,"i":2.0e-9},{"s":"72 hrs","t":1070,"i":-1.0e-9},{"s":"72 hrs","t":1075,"i":9e-9},{"s":"72 hrs","t":1076,"i":-9e-9},{"s":"72 hrs","t":1077,"i":9e-9},{"s":"72 hrs","t":1078,"i":-9e-9},{"s":"72 hrs","t":1079,"i":9e-9},{"s":"72 hrs","t":1080,"i":-9e-9},{"s":"72 hrs","t":1081,"i":9e-9},{"s":"72 hrs","t":1082,"i":-9e-9},{"s":"72 hrs","t":1083,"i":9e-9},{"s":"72 hrs","t":1084,"i":-9e-9},{"s":"72 hrs","t":1085,"i":9e-9},{"s":"72 hrs","t":1086,"i":-9e-9},{"s":"72 hrs","t":1087,"i":1.3e-9},{"s":"72 hrs","t":1095,"i":2.2e-9},{"s":"72 hrs","t":1100,"i":0.4e-9},{"s":"72 hrs","t":1105,"i":1.8e-9},{"s":"72 hrs","t":1110,"i":0.9e-9},{"s":"72 hrs","t":1115,"i":2.3e-9},{"s":"72 hrs","t":1120,"i":0.7e-9},{"s":"72 hrs","t":1125,"i":1.6e-9},{"s":"72 hrs","t":1133,"i":2.3e-9},{"s":"72 hrs","t":1134,"i":0.2e-9},{"s":"72 hrs","t":1135,"i":1.3e-9},{"s":"72 hrs","t":1145,"i":1.8e-9},{"s":"72 hrs","t":1150,"i":0.9e-9},{"s":"72 hrs","t":1155,"i":1.5e-9},{"s":"72 hrs","t":1165,"i":2.0e-9},{"s":"72 hrs","t":1170,"i":1.0e-9},{"s":"72 hrs","t":1175,"i":1.4e-9},{"s":"72 hrs","t":1185,"i":1.9e-9},{"s":"72 hrs","t":1190,"i":0.8e-9},{"s":"72 hrs","t":1200,"i":1.3e-9},{"s":"72 hrs","t":1210,"i":1.6e-9},{"s":"72 hrs","t":1220,"i":1.1e-9},{"s":"72 hrs","t":1230,"i":1.5e-9},{"s":"72 hrs","t":1240,"i":1.2e-9},{"s":"72 hrs","t":1250,"i":1.35e-9},{"s":"72 hrs","t":1260,"i":1.7e-9},{"s":"72 hrs","t":1265,"i":1.0e-9},{"s":"72 hrs","t":1275,"i":1.3e-9},{"s":"72 hrs","t":1285,"i":1.5e-9},{"s":"72 hrs","t":1297,"i":1.22e-9},{"s":"72 hrs","t":1305,"i":1.4e-9},{"s":"72 hrs","t":1315,"i":1.1e-9},{"s":"72 hrs","t":1325,"i":1.35e-9},{"s":"72 hrs","t":1335,"i":1.25e-9},{"s":"72 hrs","t":1345,"i":1.6e-9},{"s":"72 hrs","t":1350,"i":1.0e-9},{"s":"72 hrs","t":1360,"i":1.3e-9},{"s":"72 hrs","t":1370,"i":1.5e-9},{"s":"72 hrs","t":1378,"i":1.1e-9},{"s":"72 hrs","t":1383,"i":2.4e-9},{"s":"72 hrs","t":1384,"i":0.6e-9},{"s":"72 hrs","t":1390,"i":2.0e-9},{"s":"72 hrs","t":1395,"i":1.0e-9},{"s":"72 hrs","t":1402,"i":1.6e-9},{"s":"72 hrs","t":1410,"i":0.8e-9},{"s":"72 hrs","t":1420,"i":1.4e-9},{"s":"72 hrs","t":1430,"i":1.1e-9},{"s":"72 hrs","t":1440,"i":1.2e-9},{"s":"72 hrs","t":1450,"i":1.08e-9},{"s":"72 hrs","t":1460,"i":1.15e-9},{"s":"72 hrs","t":1470,"i":1.05e-9},{"s":"72 hrs","t":1480,"i":1.1e-9},{"s":"72 hrs","t":1490,"i":1.3e-9},{"s":"72 hrs","t":1500,"i":1.6e-9},{"s":"72 hrs","t":1505,"i":1.1e-9},{"s":"72 hrs","t":1515,"i":1.4e-9},{"s":"72 hrs","t":1525,"i":1.1e-9},{"s":"72 hrs","t":1535,"i":1.2e-9},{"s":"72 hrs","t":1549,"i":1.3e-9},{"s":"72 hrs","t":1550,"i":2.6e-9},{"s":"72 hrs","t":1551,"i":0.5e-9},{"s":"72 hrs","t":1552,"i":2.6e-9},{"s":"72 hrs","t":1553,"i":0.6e-9},{"s":"72 hrs","t":1560,"i":1.2e-9},{"s":"72 hrs","t":1570,"i":1.5e-9},{"s":"72 hrs","t":1580,"i":1.0e-9},{"s":"72 hrs","t":1590,"i":1.3e-9},{"s":"72 hrs","t":1600,"i":0.8e-9},{"s":"72 hrs","t":1605,"i":1.4e-9},{"s":"72 hrs","t":1615,"i":0.5e-9},{"s":"72 hrs","t":1625,"i":1.6e-9},{"s":"72 hrs","t":1635,"i":0.3e-9},{"s":"72 hrs","t":1645,"i":1.2e-9},{"s":"72 hrs","t":1655,"i":1.0e-9},{"s":"72 hrs","t":1657,"i":9e-9},{"s":"72 hrs","t":1658,"i":-9e-9},{"s":"72 hrs","t":1659,"i":9e-9},{"s":"72 hrs","t":1665,"i":-9e-9},{"s":"72 hrs","t":1666,"i":9e-9},{"s":"72 hrs","t":1672,"i":-9e-9},{"s":"72 hrs","t":1673,"i":9e-9},{"s":"72 hrs","t":1680,"i":-9e-9},{"s":"72 hrs","t":1682,"i":-4.5e-9},{"s":"72 hrs","t":1690,"i":-3.0e-9},{"s":"72 hrs","t":1696,"i":-2.35e-9},{"s":"72 hrs","t":1700,"i":-1.5e-9},{"s":"72 hrs","t":1707,"i":-1.9e-9},{"s":"72 hrs","t":1714,"i":-1.3e-9},{"s":"72 hrs","t":1721,"i":-1.0e-9},{"s":"72 hrs","t":1728,"i":-0.6e-9},{"s":"72 hrs","t":1736,"i":-0.45e-9},{"s":"72 hrs","t":1740,"i":0.4e-9},{"s":"72 hrs","t":1744,"i":-0.2e-9},{"s":"72 hrs","t":1752,"i":-0.07e-9},{"s":"72 hrs","t":1758,"i":0.5e-9},{"s":"72 hrs","t":1762,"i":0.1e-9},{"s":"72 hrs","t":1770,"i":0.3e-9},{"s":"72 hrs","t":1775,"i":1.0e-9},{"s":"72 hrs","t":1780,"i":0.35e-9},{"s":"72 hrs","t":1793,"i":0.53e-9},{"s":"72 hrs","t":1800,"i":1.2e-9},{"s":"72 hrs","t":1805,"i":0.5e-9},{"s":"72 hrs","t":1815,"i":0.8e-9},{"s":"72 hrs","t":1825,"i":1.4e-9},{"s":"72 hrs","t":1830,"i":0.4e-9},{"s":"72 hrs","t":1840,"i":2.5e-9},{"s":"72 hrs","t":1841,"i":0.3e-9},{"s":"72 hrs","t":1844,"i":3.0e-9},{"s":"72 hrs","t":1845,"i":-0.1e-9},{"s":"72 hrs","t":1846,"i":0.9e-9},{"s":"72 hrs","t":1855,"i":1.5e-9},{"s":"72 hrs","t":1860,"i":0.7e-9},{"s":"72 hrs","t":1870,"i":0.95e-9},{"s":"72 hrs","t":1880,"i":1.2e-9},{"s":"72 hrs","t":1890,"i":0.85e-9},{"s":"72 hrs","t":1900,"i":0.95e-9},{"s":"72 hrs","t":1910,"i":1.3e-9},{"s":"72 hrs","t":1915,"i":0.8e-9},{"s":"72 hrs","t":1921,"i":0.93e-9},{"s":"72 hrs","t":1935,"i":1.0e-9},{"s":"72 hrs","t":1950,"i":0.95e-9},{"s":"72 hrs","t":1965,"i":1.05e-9},{"s":"72 hrs","t":1980,"i":1.0e-9},{"s":"72 hrs","t":1995,"i":0.98e-9},{"s":"72 hrs","t":2010,"i":1.02e-9},{"s":"72 hrs","t":2025,"i":0.98e-9},{"s":"72 hrs","t":2040,"i":1.0e-9},{"s":"72 hrs","t":2052,"i":0.98e-9},
{"s":"96 hrs","t":0,"i":1.85e-9},{"s":"96 hrs","t":2,"i":2.3e-9},{"s":"96 hrs","t":4,"i":1.7e-9},{"s":"96 hrs","t":6,"i":2.1e-9},{"s":"96 hrs","t":8,"i":1.6e-9},{"s":"96 hrs","t":10,"i":2.0e-9},{"s":"96 hrs","t":13,"i":1.75e-9},{"s":"96 hrs","t":16,"i":2.2e-9},{"s":"96 hrs","t":19,"i":1.8e-9},{"s":"96 hrs","t":22,"i":1.9e-9},{"s":"96 hrs","t":26,"i":1.8e-9},{"s":"96 hrs","t":30,"i":1.75e-9},{"s":"96 hrs","t":35,"i":1.78e-9},{"s":"96 hrs","t":40,"i":1.72e-9},{"s":"96 hrs","t":47,"i":1.74e-9},{"s":"96 hrs","t":55,"i":1.7e-9},{"s":"96 hrs","t":65,"i":1.72e-9},{"s":"96 hrs","t":75,"i":1.68e-9},{"s":"96 hrs","t":85,"i":1.7e-9},{"s":"96 hrs","t":95,"i":1.66e-9},{"s":"96 hrs","t":105,"i":1.68e-9},{"s":"96 hrs","t":115,"i":1.64e-9},{"s":"96 hrs","t":125,"i":1.66e-9},{"s":"96 hrs","t":135,"i":1.62e-9},{"s":"96 hrs","t":150,"i":1.6e-9},{"s":"96 hrs","t":165,"i":1.58e-9},{"s":"96 hrs","t":180,"i":1.6e-9},{"s":"96 hrs","t":195,"i":1.55e-9},{"s":"96 hrs","t":210,"i":1.56e-9},{"s":"96 hrs","t":225,"i":1.52e-9},{"s":"96 hrs","t":240,"i":1.5e-9},{"s":"96 hrs","t":250,"i":1.5e-9},{"s":"96 hrs","t":260,"i":1.48e-9},{"s":"96 hrs","t":270,"i":1.47e-9},{"s":"96 hrs","t":285,"i":1.45e-9},{"s":"96 hrs","t":286,"i":3.4e-9},{"s":"96 hrs","t":287,"i":-0.5e-9},{"s":"96 hrs","t":288,"i":1.45e-9},{"s":"96 hrs","t":300,"i":1.44e-9},{"s":"96 hrs","t":307,"i":1.42e-9},{"s":"96 hrs","t":308,"i":2.5e-9},{"s":"96 hrs","t":309,"i":0.9e-9},{"s":"96 hrs","t":310,"i":1.42e-9},{"s":"96 hrs","t":320,"i":1.4e-9},{"s":"96 hrs","t":335,"i":1.38e-9},{"s":"96 hrs","t":350,"i":1.38e-9},{"s":"96 hrs","t":365,"i":1.36e-9},{"s":"96 hrs","t":380,"i":1.34e-9},{"s":"96 hrs","t":395,"i":1.33e-9},{"s":"96 hrs","t":410,"i":1.32e-9},{"s":"96 hrs","t":425,"i":1.3e-9},{"s":"96 hrs","t":440,"i":1.28e-9},{"s":"96 hrs","t":455,"i":1.27e-9},{"s":"96 hrs","t":470,"i":1.25e-9},{"s":"96 hrs","t":485,"i":1.24e-9},{"s":"96 hrs","t":500,"i":1.22e-9},{"s":"96 hrs","t":515,"i":1.22e-9},{"s":"96 hrs","t":530,"i":1.2e-9},{"s":"96 hrs","t":545,"i":1.19e-9},{"s":"96 hrs","t":560,"i":1.18e-9},{"s":"96 hrs","t":569,"i":1.18e-9},{"s":"96 hrs","t":570,"i":3.2e-9},{"s":"96 hrs","t":571,"i":-2.3e-9},{"s":"96 hrs","t":572,"i":1.17e-9},{"s":"96 hrs","t":576,"i":2.2e-9},{"s":"96 hrs","t":577,"i":0.1e-9},{"s":"96 hrs","t":578,"i":1.16e-9},{"s":"96 hrs","t":590,"i":1.16e-9},{"s":"96 hrs","t":605,"i":1.15e-9},{"s":"96 hrs","t":622,"i":1.15e-9},{"s":"96 hrs","t":640,"i":1.12e-9},{"s":"96 hrs","t":655,"i":1.12e-9},{"s":"96 hrs","t":670,"i":1.1e-9},{"s":"96 hrs","t":685,"i":1.1e-9},{"s":"96 hrs","t":700,"i":1.09e-9},{"s":"96 hrs","t":715,"i":1.08e-9},{"s":"96 hrs","t":734,"i":1.08e-9},{"s":"96 hrs","t":740,"i":1.1e-9},{"s":"96 hrs","t":742,"i":9e-9},{"s":"96 hrs","t":743,"i":-9e-9},{"s":"96 hrs","t":744,"i":1.0e-9},{"s":"96 hrs","t":750,"i":1.08e-9},{"s":"96 hrs","t":755,"i":9e-9},{"s":"96 hrs","t":756,"i":-9e-9},{"s":"96 hrs","t":757,"i":1.05e-9},{"s":"96 hrs","t":770,"i":1.05e-9},{"s":"96 hrs","t":785,"i":1.05e-9},{"s":"96 hrs","t":800,"i":1.03e-9},{"s":"96 hrs","t":810,"i":1.04e-9},{"s":"96 hrs","t":819,"i":1.0e-9},{"s":"96 hrs","t":820,"i":2.75e-9},{"s":"96 hrs","t":821,"i":-0.05e-9},{"s":"96 hrs","t":822,"i":1.02e-9},{"s":"96 hrs","t":835,"i":1.0e-9},{"s":"96 hrs","t":850,"i":1.0e-9},{"s":"96 hrs","t":865,"i":0.98e-9},{"s":"96 hrs","t":880,"i":1.0e-9},{"s":"96 hrs","t":895,"i":0.97e-9},{"s":"96 hrs","t":910,"i":0.98e-9},{"s":"96 hrs","t":925,"i":0.96e-9},{"s":"96 hrs","t":940,"i":0.97e-9},{"s":"96 hrs","t":947,"i":0.95e-9},{"s":"96 hrs","t":948,"i":4.45e-9},{"s":"96 hrs","t":949,"i":-1.3e-9},{"s":"96 hrs","t":950,"i":0.96e-9},{"s":"96 hrs","t":958,"i":2.5e-9},{"s":"96 hrs","t":959,"i":0.1e-9},{"s":"96 hrs","t":960,"i":1.2e-9},{"s":"96 hrs","t":966,"i":9e-9},{"s":"96 hrs","t":967,"i":-9e-9},{"s":"96 hrs","t":968,"i":9e-9},{"s":"96 hrs","t":969,"i":-9e-9},{"s":"96 hrs","t":970,"i":9e-9},{"s":"96 hrs","t":971,"i":-9e-9},{"s":"96 hrs","t":972,"i":9e-9},{"s":"96 hrs","t":973,"i":-9e-9},{"s":"96 hrs","t":975,"i":9e-9},{"s":"96 hrs","t":976,"i":-9e-9},{"s":"96 hrs","t":978,"i":9e-9},{"s":"96 hrs","t":979,"i":-9e-9},{"s":"96 hrs","t":981,"i":9e-9},{"s":"96 hrs","t":982,"i":-9e-9},{"s":"96 hrs","t":983,"i":0.95e-9},{"s":"96 hrs","t":990,"i":0.8e-9},{"s":"96 hrs","t":995,"i":1.5e-9},{"s":"96 hrs","t":1000,"i":0.9e-9},{"s":"96 hrs","t":1010,"i":1.3e-9},{"s":"96 hrs","t":1015,"i":0.5e-9},{"s":"96 hrs","t":1020,"i":1.6e-9},{"s":"96 hrs","t":1025,"i":-0.8e-9},{"s":"96 hrs","t":1030,"i":9e-9},{"s":"96 hrs","t":1031,"i":-2.0e-9},{"s":"96 hrs","t":1032,"i":1.0e-9},{"s":"96 hrs","t":1040,"i":2.0e-9},{"s":"96 hrs","t":1042,"i":-0.5e-9},{"s":"96 hrs","t":1046,"i":1.5e-9},{"s":"96 hrs","t":1050,"i":0.6e-9},{"s":"96 hrs","t":1053,"i":9e-9},{"s":"96 hrs","t":1054,"i":-9e-9},{"s":"96 hrs","t":1055,"i":9e-9},{"s":"96 hrs","t":1056,"i":-9e-9},{"s":"96 hrs","t":1057,"i":9e-9},{"s":"96 hrs","t":1058,"i":-9e-9},{"s":"96 hrs","t":1059,"i":9e-9},{"s":"96 hrs","t":1060,"i":-9e-9},{"s":"96 hrs","t":1061,"i":9e-9},{"s":"96 hrs","t":1062,"i":-9e-9},{"s":"96 hrs","t":1063,"i":9e-9},{"s":"96 hrs","t":1064,"i":-9e-9},{"s":"96 hrs","t":1065,"i":1.0e-9},{"s":"96 hrs","t":1070,"i":2.2e-9},{"s":"96 hrs","t":1072,"i":-0.5e-9},{"s":"96 hrs","t":1076,"i":1.8e-9},{"s":"96 hrs","t":1080,"i":0.2e-9},{"s":"96 hrs","t":1085,"i":2.5e-9},{"s":"96 hrs","t":1088,"i":-1.5e-9},{"s":"96 hrs","t":1092,"i":1.5e-9},{"s":"96 hrs","t":1098,"i":0.4e-9},{"s":"96 hrs","t":1104,"i":1.6e-9},{"s":"96 hrs","t":1110,"i":0.6e-9},{"s":"96 hrs","t":1116,"i":9e-9},{"s":"96 hrs","t":1117,"i":-9e-9},{"s":"96 hrs","t":1118,"i":9e-9},{"s":"96 hrs","t":1119,"i":-1.0e-9},{"s":"96 hrs","t":1120,"i":1.0e-9},{"s":"96 hrs","t":1128,"i":1.8e-9},{"s":"96 hrs","t":1132,"i":0.3e-9},{"s":"96 hrs","t":1140,"i":1.5e-9},{"s":"96 hrs","t":1146,"i":0.6e-9},{"s":"96 hrs","t":1155,"i":1.4e-9},{"s":"96 hrs","t":1162,"i":0.7e-9},{"s":"96 hrs","t":1170,"i":1.2e-9},{"s":"96 hrs","t":1180,"i":1.0e-9},{"s":"96 hrs","t":1183,"i":9e-9},{"s":"96 hrs","t":1184,"i":-4.8e-9},{"s":"96 hrs","t":1185,"i":9e-9},{"s":"96 hrs","t":1186,"i":-4.1e-9},{"s":"96 hrs","t":1187,"i":9e-9},{"s":"96 hrs","t":1188,"i":-2.1e-9},{"s":"96 hrs","t":1189,"i":1.0e-9},{"s":"96 hrs","t":1195,"i":1.9e-9},{"s":"96 hrs","t":1198,"i":0.4e-9},{"s":"96 hrs","t":1205,"i":1.0e-9},{"s":"96 hrs","t":1215,"i":0.95e-9},{"s":"96 hrs","t":1230,"i":0.92e-9},{"s":"96 hrs","t":1245,"i":0.95e-9},{"s":"96 hrs","t":1260,"i":0.9e-9},{"s":"96 hrs","t":1275,"i":0.92e-9},{"s":"96 hrs","t":1290,"i":0.88e-9},{"s":"96 hrs","t":1305,"i":0.9e-9},{"s":"96 hrs","t":1320,"i":0.86e-9},{"s":"96 hrs","t":1335,"i":0.88e-9},{"s":"96 hrs","t":1350,"i":0.85e-9},{"s":"96 hrs","t":1365,"i":0.88e-9},{"s":"96 hrs","t":1380,"i":0.84e-9},{"s":"96 hrs","t":1395,"i":0.86e-9},{"s":"96 hrs","t":1410,"i":0.82e-9},{"s":"96 hrs","t":1415,"i":0.9e-9},{"s":"96 hrs","t":1416,"i":9e-9},{"s":"96 hrs","t":1417,"i":-0.1e-9},{"s":"96 hrs","t":1418,"i":1.5e-9},{"s":"96 hrs","t":1419,"i":-1.3e-9},{"s":"96 hrs","t":1420,"i":0.85e-9},{"s":"96 hrs","t":1430,"i":0.8e-9},{"s":"96 hrs","t":1445,"i":0.84e-9},{"s":"96 hrs","t":1460,"i":0.8e-9},{"s":"96 hrs","t":1475,"i":0.82e-9},{"s":"96 hrs","t":1490,"i":0.78e-9},{"s":"96 hrs","t":1505,"i":0.8e-9},{"s":"96 hrs","t":1520,"i":0.78e-9},{"s":"96 hrs","t":1535,"i":0.8e-9},{"s":"96 hrs","t":1550,"i":0.78e-9},{"s":"96 hrs","t":1565,"i":0.76e-9},{"s":"96 hrs","t":1580,"i":0.78e-9},{"s":"96 hrs","t":1595,"i":0.76e-9},{"s":"96 hrs","t":1600,"i":9e-9},{"s":"96 hrs","t":1601,"i":-9e-9},{"s":"96 hrs","t":1602,"i":9e-9},{"s":"96 hrs","t":1603,"i":-9e-9},{"s":"96 hrs","t":1605,"i":9e-9},{"s":"96 hrs","t":1606,"i":-9e-9},{"s":"96 hrs","t":1608,"i":9e-9},{"s":"96 hrs","t":1609,"i":-9e-9},{"s":"96 hrs","t":1611,"i":9e-9},{"s":"96 hrs","t":1612,"i":-9e-9},{"s":"96 hrs","t":1614,"i":9e-9},{"s":"96 hrs","t":1615,"i":-9e-9},{"s":"96 hrs","t":1617,"i":9e-9},{"s":"96 hrs","t":1618,"i":-9e-9},{"s":"96 hrs","t":1620,"i":9e-9},{"s":"96 hrs","t":1621,"i":-9e-9},{"s":"96 hrs","t":1623,"i":9e-9},{"s":"96 hrs","t":1624,"i":-9e-9},{"s":"96 hrs","t":1626,"i":9e-9},{"s":"96 hrs","t":1627,"i":-9e-9},{"s":"96 hrs","t":1629,"i":9e-9},{"s":"96 hrs","t":1630,"i":-9e-9},{"s":"96 hrs","t":1632,"i":9e-9},{"s":"96 hrs","t":1633,"i":-9e-9},{"s":"96 hrs","t":1635,"i":9e-9},{"s":"96 hrs","t":1636,"i":-9e-9},{"s":"96 hrs","t":1640,"i":0.5e-9},{"s":"96 hrs","t":1645,"i":1.2e-9},{"s":"96 hrs","t":1650,"i":-0.5e-9},{"s":"96 hrs","t":1652,"i":9e-9},{"s":"96 hrs","t":1653,"i":-9e-9},{"s":"96 hrs","t":1655,"i":9e-9},{"s":"96 hrs","t":1656,"i":-9e-9},{"s":"96 hrs","t":1658,"i":9e-9},{"s":"96 hrs","t":1659,"i":-9e-9},{"s":"96 hrs","t":1661,"i":9e-9},{"s":"96 hrs","t":1662,"i":-9e-9},{"s":"96 hrs","t":1665,"i":0.6e-9},{"s":"96 hrs","t":1670,"i":1.3e-9},{"s":"96 hrs","t":1675,"i":-0.3e-9},{"s":"96 hrs","t":1680,"i":1.0e-9},{"s":"96 hrs","t":1688,"i":9e-9},{"s":"96 hrs","t":1689,"i":-9e-9},{"s":"96 hrs","t":1690,"i":9e-9},{"s":"96 hrs","t":1691,"i":-9e-9},{"s":"96 hrs","t":1695,"i":0.5e-9},{"s":"96 hrs","t":1700,"i":1.4e-9},{"s":"96 hrs","t":1705,"i":-0.2e-9},{"s":"96 hrs","t":1710,"i":0.9e-9},{"s":"96 hrs","t":1718,"i":1.5e-9},{"s":"96 hrs","t":1720,"i":-1.0e-9},{"s":"96 hrs","t":1726,"i":9e-9},{"s":"96 hrs","t":1727,"i":-9e-9},{"s":"96 hrs","t":1728,"i":0.7e-9},{"s":"96 hrs","t":1735,"i":1.2e-9},{"s":"96 hrs","t":1740,"i":-3.0e-9},{"s":"96 hrs","t":1744,"i":9e-9},{"s":"96 hrs","t":1745,"i":-9e-9},{"s":"96 hrs","t":1746,"i":9e-9},{"s":"96 hrs","t":1747,"i":0.2e-9},{"s":"96 hrs","t":1755,"i":1.0e-9},{"s":"96 hrs","t":1765,"i":-0.5e-9},{"s":"96 hrs","t":1775,"i":0.8e-9},{"s":"96 hrs","t":1785,"i":1.0e-9},{"s":"96 hrs","t":1795,"i":0.6e-9},{"s":"96 hrs","t":1812,"i":1.8e-9},{"s":"96 hrs","t":1813,"i":-3.85e-9},{"s":"96 hrs","t":1814,"i":0.8e-9},{"s":"96 hrs","t":1829,"i":9e-9},{"s":"96 hrs","t":1830,"i":-9e-9},{"s":"96 hrs","t":1831,"i":9e-9},{"s":"96 hrs","t":1832,"i":0.7e-9},{"s":"96 hrs","t":1840,"i":0.8e-9},{"s":"96 hrs","t":1850,"i":0.75e-9},{"s":"96 hrs","t":1860,"i":0.78e-9},{"s":"96 hrs","t":1870,"i":0.72e-9},{"s":"96 hrs","t":1880,"i":0.76e-9},{"s":"96 hrs","t":1890,"i":0.7e-9},{"s":"96 hrs","t":1900,"i":0.74e-9},{"s":"96 hrs","t":1910,"i":0.7e-9},{"s":"96 hrs","t":1920,"i":0.72e-9},{"s":"96 hrs","t":1930,"i":0.68e-9},{"s":"96 hrs","t":1943,"i":0.7e-9},{"s":"96 hrs","t":1944,"i":3.0e-9},{"s":"96 hrs","t":1945,"i":0.2e-9},{"s":"96 hrs","t":1946,"i":0.7e-9},{"s":"96 hrs","t":1955,"i":0.72e-9},{"s":"96 hrs","t":1970,"i":0.7e-9},{"s":"96 hrs","t":1980,"i":0.68e-9},{"s":"96 hrs","t":1990,"i":0.72e-9},{"s":"96 hrs","t":2000,"i":0.7e-9},{"s":"96 hrs","t":2010,"i":0.75e-9},{"s":"96 hrs","t":2020,"i":0.65e-9},{"s":"96 hrs","t":2030,"i":0.72e-9},{"s":"96 hrs","t":2040,"i":0.6e-9},{"s":"96 hrs","t":2046,"i":1.6e-9},{"s":"96 hrs","t":2047,"i":-0.6e-9},{"s":"96 hrs","t":2048,"i":0.7e-9},{"s":"96 hrs","t":2052,"i":0.68e-9},
{"s":"168 hrs","t":0,"i":1.4e-9},{"s":"168 hrs","t":3,"i":1.5e-9},{"s":"168 hrs","t":6,"i":1.35e-9},{"s":"168 hrs","t":10,"i":1.45e-9},{"s":"168 hrs","t":15,"i":1.42e-9},{"s":"168 hrs","t":20,"i":1.48e-9},{"s":"168 hrs","t":30,"i":1.44e-9},{"s":"168 hrs","t":40,"i":1.46e-9},{"s":"168 hrs","t":50,"i":1.42e-9},{"s":"168 hrs","t":60,"i":1.44e-9},{"s":"168 hrs","t":70,"i":1.4e-9},{"s":"168 hrs","t":80,"i":1.43e-9},{"s":"168 hrs","t":90,"i":1.38e-9},{"s":"168 hrs","t":100,"i":1.41e-9},{"s":"168 hrs","t":110,"i":1.37e-9},{"s":"168 hrs","t":121,"i":1.4e-9},{"s":"168 hrs","t":122,"i":1.7e-9},{"s":"168 hrs","t":123,"i":1.1e-9},{"s":"168 hrs","t":124,"i":1.38e-9},{"s":"168 hrs","t":135,"i":1.36e-9},{"s":"168 hrs","t":150,"i":1.33e-9},{"s":"168 hrs","t":165,"i":1.35e-9},{"s":"168 hrs","t":180,"i":1.31e-9},{"s":"168 hrs","t":195,"i":1.34e-9},{"s":"168 hrs","t":210,"i":1.29e-9},{"s":"168 hrs","t":225,"i":1.31e-9},{"s":"168 hrs","t":240,"i":1.28e-9},{"s":"168 hrs","t":245,"i":2.6e-9},{"s":"168 hrs","t":246,"i":-0.65e-9},{"s":"168 hrs","t":247,"i":1.28e-9},{"s":"168 hrs","t":260,"i":1.25e-9},{"s":"168 hrs","t":275,"i":1.29e-9},{"s":"168 hrs","t":290,"i":1.25e-9},{"s":"168 hrs","t":297,"i":1.28e-9},{"s":"168 hrs","t":310,"i":1.23e-9},{"s":"168 hrs","t":325,"i":1.26e-9},{"s":"168 hrs","t":340,"i":1.22e-9},{"s":"168 hrs","t":355,"i":1.25e-9},{"s":"168 hrs","t":370,"i":1.2e-9},{"s":"168 hrs","t":385,"i":1.24e-9},{"s":"168 hrs","t":400,"i":1.19e-9},{"s":"168 hrs","t":410,"i":1.23e-9},{"s":"168 hrs","t":425,"i":1.18e-9},{"s":"168 hrs","t":440,"i":1.2e-9},{"s":"168 hrs","t":455,"i":1.15e-9},{"s":"168 hrs","t":470,"i":1.18e-9},{"s":"168 hrs","t":485,"i":1.13e-9},{"s":"168 hrs","t":500,"i":1.16e-9},{"s":"168 hrs","t":520,"i":1.11e-9},{"s":"168 hrs","t":540,"i":1.12e-9},{"s":"168 hrs","t":560,"i":1.06e-9},{"s":"168 hrs","t":577,"i":1.06e-9},{"s":"168 hrs","t":582,"i":1.03e-9},{"s":"168 hrs","t":583,"i":2.7e-9},{"s":"168 hrs","t":584,"i":-0.33e-9},{"s":"168 hrs","t":585,"i":1.04e-9},{"s":"168 hrs","t":600,"i":1.03e-9},{"s":"168 hrs","t":620,"i":0.99e-9},{"s":"168 hrs","t":640,"i":1.01e-9},{"s":"168 hrs","t":660,"i":0.97e-9},{"s":"168 hrs","t":680,"i":0.99e-9},{"s":"168 hrs","t":700,"i":0.94e-9},{"s":"168 hrs","t":720,"i":0.96e-9},{"s":"168 hrs","t":734,"i":0.92e-9},{"s":"168 hrs","t":750,"i":0.95e-9},{"s":"168 hrs","t":770,"i":0.91e-9},{"s":"168 hrs","t":790,"i":0.94e-9},{"s":"168 hrs","t":810,"i":0.9e-9},{"s":"168 hrs","t":830,"i":0.93e-9},{"s":"168 hrs","t":850,"i":0.89e-9},{"s":"168 hrs","t":870,"i":0.92e-9},{"s":"168 hrs","t":890,"i":0.88e-9},{"s":"168 hrs","t":910,"i":0.91e-9},{"s":"168 hrs","t":930,"i":0.87e-9},{"s":"168 hrs","t":950,"i":0.89e-9},{"s":"168 hrs","t":969,"i":0.86e-9},{"s":"168 hrs","t":980,"i":0.88e-9},{"s":"168 hrs","t":985,"i":9e-9},{"s":"168 hrs","t":986,"i":-9e-9},{"s":"168 hrs","t":987,"i":9e-9},{"s":"168 hrs","t":988,"i":-9e-9},{"s":"168 hrs","t":990,"i":9e-9},{"s":"168 hrs","t":991,"i":-9e-9},{"s":"168 hrs","t":993,"i":9e-9},{"s":"168 hrs","t":994,"i":-9e-9},{"s":"168 hrs","t":996,"i":9e-9},{"s":"168 hrs","t":997,"i":-9e-9},{"s":"168 hrs","t":999,"i":9e-9},{"s":"168 hrs","t":1000,"i":-9e-9},{"s":"168 hrs","t":1002,"i":9e-9},{"s":"168 hrs","t":1003,"i":-9e-9},{"s":"168 hrs","t":1005,"i":0.85e-9},{"s":"168 hrs","t":1020,"i":0.81e-9},{"s":"168 hrs","t":1040,"i":0.83e-9},{"s":"168 hrs","t":1060,"i":0.78e-9},{"s":"168 hrs","t":1072,"i":0.8e-9},{"s":"168 hrs","t":1090,"i":0.76e-9},{"s":"168 hrs","t":1110,"i":0.79e-9},{"s":"168 hrs","t":1130,"i":0.75e-9},{"s":"168 hrs","t":1150,"i":0.78e-9},{"s":"168 hrs","t":1170,"i":0.74e-9},{"s":"168 hrs","t":1190,"i":0.77e-9},{"s":"168 hrs","t":1210,"i":0.73e-9},{"s":"168 hrs","t":1230,"i":0.77e-9},{"s":"168 hrs","t":1250,"i":0.73e-9},{"s":"168 hrs","t":1270,"i":0.76e-9},{"s":"168 hrs","t":1297,"i":0.74e-9},{"s":"168 hrs","t":1320,"i":0.76e-9},{"s":"168 hrs","t":1340,"i":0.72e-9},{"s":"168 hrs","t":1360,"i":0.75e-9},{"s":"168 hrs","t":1380,"i":0.71e-9},{"s":"168 hrs","t":1400,"i":0.74e-9},{"s":"168 hrs","t":1420,"i":0.7e-9},{"s":"168 hrs","t":1440,"i":0.74e-9},{"s":"168 hrs","t":1460,"i":0.7e-9},{"s":"168 hrs","t":1480,"i":0.73e-9},{"s":"168 hrs","t":1500,"i":0.7e-9},{"s":"168 hrs","t":1520,"i":0.73e-9},{"s":"168 hrs","t":1540,"i":0.68e-9},{"s":"168 hrs","t":1560,"i":0.72e-9},{"s":"168 hrs","t":1580,"i":0.68e-9},{"s":"168 hrs","t":1600,"i":0.71e-9},{"s":"168 hrs","t":1620,"i":0.67e-9},{"s":"168 hrs","t":1640,"i":0.71e-9},{"s":"168 hrs","t":1660,"i":0.66e-9},{"s":"168 hrs","t":1680,"i":0.7e-9},{"s":"168 hrs","t":1700,"i":0.66e-9},{"s":"168 hrs","t":1720,"i":0.69e-9},{"s":"168 hrs","t":1748,"i":0.65e-9},{"s":"168 hrs","t":1770,"i":0.69e-9},{"s":"168 hrs","t":1790,"i":0.64e-9},{"s":"168 hrs","t":1810,"i":0.68e-9},{"s":"168 hrs","t":1830,"i":0.64e-9},{"s":"168 hrs","t":1850,"i":0.67e-9},{"s":"168 hrs","t":1870,"i":0.63e-9},{"s":"168 hrs","t":1890,"i":0.67e-9},{"s":"168 hrs","t":1910,"i":0.63e-9},{"s":"168 hrs","t":1930,"i":0.66e-9},{"s":"168 hrs","t":1950,"i":0.62e-9},{"s":"168 hrs","t":1970,"i":0.66e-9},{"s":"168 hrs","t":1990,"i":0.63e-9},{"s":"168 hrs","t":1994,"i":9e-9},{"s":"168 hrs","t":1995,"i":-9e-9},{"s":"168 hrs","t":1996,"i":9e-9},{"s":"168 hrs","t":1997,"i":-9e-9},{"s":"168 hrs","t":1999,"i":9e-9},{"s":"168 hrs","t":2000,"i":-9e-9},{"s":"168 hrs","t":2002,"i":9e-9},{"s":"168 hrs","t":2003,"i":-2.1e-9},{"s":"168 hrs","t":2004,"i":0.64e-9},{"s":"168 hrs","t":2015,"i":0.62e-9},{"s":"168 hrs","t":2030,"i":0.65e-9},{"s":"168 hrs","t":2052,"i":0.63e-9}
]},
"layer":[
{"mark":{"type":"line","strokeWidth":1,"clip":true},
 "encoding":{
  "x":{"field":"t","type":"quantitative","scale":{"domain":[-7,2074],"nice":false,"zero":false},
   "axis":{"orient":"bottom","values":[0,500,1000,1500,2000],"format":"d","offset":-10,"tickSize":10,"tickColor":"#404040","domain":false,"labelPadding":7,"labelFont":"Liberation Sans","labelFontSize":12,"labelColor":"#333333","title":"Tiempo [s]","titleFont":"Open Sans","titleFontSize":27,"titleFontWeight":"bold","titleColor":"#000000","titlePadding":7}},
  "y":{"field":"i","type":"quantitative","scale":{"domain":[-5e-9,4.98e-9],"nice":false,"zero":false},
   "axis":{"orient":"left","values":[-5e-9,-4e-9,-3e-9,-2e-9,-1e-9,0,1e-9,2e-9,3e-9,4e-9],"offset":-21,"tickSize":31,"tickColor":"#404040","domain":false,"labelPadding":2,"labelFont":"Liberation Sans","labelFontSize":12,"labelColor":"#333333",
    "labelExpr":"(datum.value < -1e-12 ? '-' : '') + format(abs(datum.value)*1e9, '.2f') + (abs(datum.value) < 1e-12 ? 'E+00' : 'E-09')",
    "title":"Corriente [mA/cm2]","titleFont":"Open Sans","titleFontSize":27,"titleFontWeight":"bold","titleColor":"#000000","titleAngle":-90,"titleAlign":"center","titleBaseline":"middle","titleX":-93,"titleY":249}},
  "color":{"field":"s","type":"nominal","sort":null,
   "scale":{"domain":["1 hr","24 hrs","48 hrs","72 hrs","96 hrs","168 hrs"],"range":["#FF0000","#0000FF","#008000","#800080","#800000","#FF00FF"]},
   "legend":{"orient":"none","legendX":948,"legendY":148,"title":null,"padding":0,"direction":"vertical","symbolType":"M-1.3,0H1.3","symbolSize":400,"symbolStrokeWidth":2,"labelOffset":3,"rowPadding":3,"labelFont":"Open Sans","labelFontSize":16,"labelFontWeight":"bold","labelColor":"#595959",
    "symbolFillColor":"transparent",
    "encode":{"symbols":{"update":{"stroke":{"signal":"datum.value=='1 hr'?'#FF0000':datum.value=='24 hrs'?'#0070C0':datum.value=='48 hrs'?'#00B050':datum.value=='72 hrs'?'#7030A0':datum.value=='96 hrs'?'#7F6000':'#FF00FF'"},"fill":{"value":"transparent"}}}}}}
 }},
{"data":{"values":[{"t":0,"i":0}]},
 "mark":{"type":"point","opacity":0},
 "encoding":{
  "x":{"field":"t","type":"quantitative","axis":{"orient":"top","values":[0,500,1000,1500,2000],"offset":-10,"tickSize":10,"tickColor":"#404040","domain":false,"labels":false,"title":null}},
  "y":{"field":"i","type":"quantitative","axis":{"orient":"right","values":[-5e-9,-4e-9,-3e-9,-2e-9,-1e-9,0,1e-9,2e-9,3e-9,4e-9],"offset":-15,"tickSize":15,"tickColor":"#404040","domain":false,"labels":false,"title":null}}
 }}
],
"resolve":{"axis":{"x":"independent","y":"independent"}}
}
